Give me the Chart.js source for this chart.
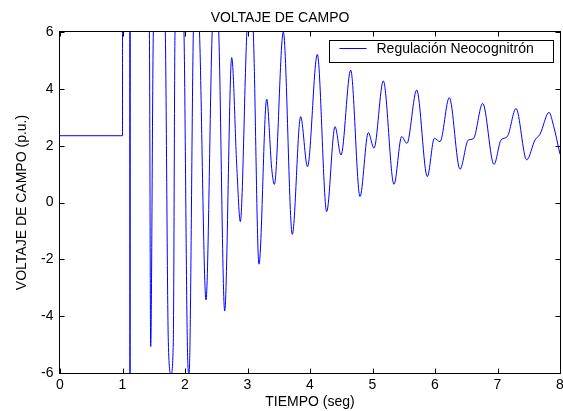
<!DOCTYPE html>
<html>
<head>
<meta charset="utf-8">
<script src="https://cdn.jsdelivr.net/npm/chart.js@4.4.0/dist/chart.umd.min.js"></script>
<style>
  body { margin: 0; background: #fff; }
  #wrap { width: 563px; height: 411px; }
</style>
</head>
<body>
<div id="wrap"><canvas id="fieldChart" width="563" height="411"></canvas></div>
<script>
// Field voltage (p.u.) against time (s).
// Values beyond +/-6 are clipped by the axes, so those are rough guesses.
const tiempo = [
  0, 1.0, 1.001, 1.06, 1.116, 1.12, 1.124, 1.28, 1.43, 1.451, 1.493, 1.59,
  1.685, 1.733, 1.776, 1.813, 1.84, 1.91, 1.984, 2.037, 2.064, 2.08, 2.133, 2.18,
  2.232, 2.336, 2.435, 2.49, 2.54, 2.635, 2.747, 2.83, 2.885, 2.99, 3.04, 3.093,
  3.184, 3.307, 3.387, 3.43, 3.573, 3.717, 3.85, 3.96, 4.117, 4.267, 4.40, 4.496,
  4.651, 4.80, 4.933, 5.024, 5.173, 5.344, 5.467, 5.55, 5.707, 5.877, 5.99, 6.08,
  6.229, 6.40, 6.533, 6.613, 6.763, 6.944, 7.056, 7.157, 7.296, 7.467, 7.6, 7.68,
  7.824, 7.9, 8.0
];
const voltaje = [
  2.35, 2.35, 8, 10, 6, -14, 6, 12, 6, -5.07, 6, 10,
  6, -4.9, -6.05, -4.9, 6, 9, 6, -4.9, -6.05, -4.9, 6, 8,
  6, -3.43, 6, 7.5, 6, -3.82, 5.1, 1.2, -0.67, 6, 7.2, 6,
  -2.17, 3.64, 1.2, 0.64, 6.0, -1.12, 3.02, 1.26, 5.21, -0.32, 2.67, 1.67,
  4.66, 0.21, 2.46, 1.91, 4.28, 0.64, 2.32, 2.08, 3.96, 0.91, 2.26, 2.14,
  3.69, 1.17, 2.2, 2.24, 3.49, 1.34, 2.2, 2.32, 3.31, 1.5, 2.2, 2.4,
  3.17, 2.67, 1.7
];
const xTickValues = [0, 1, 2, 3, 4, 5, 6, 7, 8];
const yTickValues = [-6, -4, -2, 0, 2, 4, 6];
const seriesLabel = 'Regulación Neocognitrón';

const font = { family: "'Liberation Sans', Arial, sans-serif", size: 14, weight: 'normal' };

// box round the axes, inward ticks on all four sides, boxed legend (MATLAB look)
const matlabFrame = {
  id: 'matlabFrame',
  beforeDatasetsDraw(chart) {
    const { ctx, chartArea: a, scales: { x, y } } = chart;
    const L = Math.round(a.left) - 0.5, R = Math.round(a.right) + 0.5;
    const T = Math.round(a.top) - 0.5, B = Math.round(a.bottom) + 0.5;
    ctx.save();
    ctx.strokeStyle = '#000';
    ctx.lineWidth = 1;
    ctx.strokeRect(L, T, R - L, B - T);
    ctx.beginPath();
    x.ticks.forEach(t => {
      const px = Math.round(x.getPixelForValue(t.value)) + 0.5;
      ctx.moveTo(px, B); ctx.lineTo(px, B - 5);
      ctx.moveTo(px, T); ctx.lineTo(px, T + 5);
    });
    y.ticks.forEach(t => {
      const py = Math.round(y.getPixelForValue(t.value)) + 0.5;
      ctx.moveTo(L, py); ctx.lineTo(L + 5, py);
      ctx.moveTo(R, py); ctx.lineTo(R - 5, py);
    });
    ctx.stroke();
    ctx.restore();
  },
  afterDatasetsDraw(chart) {
    const { ctx, chartArea: a } = chart;
    const ds = chart.data.datasets[0];
    const w = 224, h = 22;
    const left = Math.round(a.right - 7.3 - w) + 0.5;
    const top = Math.round(a.top + 7.7) + 0.5;
    ctx.save();
    ctx.fillStyle = '#fff';
    ctx.fillRect(left, top, w, h);
    ctx.strokeStyle = '#000';
    ctx.lineWidth = 1;
    ctx.strokeRect(left, top, w, h);
    ctx.strokeStyle = ds.borderColor;
    ctx.beginPath();
    ctx.moveTo(left + 10, top + 8);
    ctx.lineTo(left + 37, top + 8);
    ctx.stroke();
    ctx.fillStyle = '#000';
    ctx.font = `${font.size}px ${font.family}`;
    ctx.textBaseline = 'alphabetic';
    ctx.fillText(ds.label, left + 47, top + 12.8);
    ctx.restore();
  }
};

new Chart(document.getElementById('fieldChart'), {
  type: 'line',
  data: {
    datasets: [{
      label: seriesLabel,
      data: tiempo.map((t, i) => ({ x: t, y: voltaje[i] })),
      borderColor: '#0000ff',
      borderWidth: 1,
      pointRadius: 0,
      cubicInterpolationMode: 'monotone',
      fill: false
    }]
  },
  options: {
    responsive: false,
    animation: false,
    devicePixelRatio: 1,
    layout: { padding: { top: 0, right: 3, bottom: 0, left: 0 } },
    plugins: {
      legend: { display: false },
      tooltip: { enabled: false },
      title: {
        display: true,
        text: 'VOLTAJE DE CAMPO',
        color: '#000',
        font: font,
        padding: { top: 9.4, bottom: 5.8 }
      }
    },
    scales: {
      x: {
        type: 'linear',
        min: 0,
        max: 8,
        afterBuildTicks: s => { s.ticks = xTickValues.map(v => ({ value: v })); },
        afterFit: s => { s.height = 38; s.paddingLeft = 0; s.paddingRight = 0; },
        grid: { display: false, drawTicks: false },
        border: { display: false },
        ticks: { color: '#000', font: font, padding: 3.6, maxRotation: 0, autoSkip: false },
        title: { display: true, text: 'TIEMPO (seg)', color: '#000', font: font, padding: { top: 0, bottom: 0 } }
      },
      y: {
        min: -6,
        max: 6,
        afterBuildTicks: s => { s.ticks = yTickValues.map(v => ({ value: v })); },
        afterFit: s => { s.width = 60; s.paddingTop = 0; s.paddingBottom = 0; },
        grid: { display: false, drawTicks: false },
        border: { display: false },
        ticks: { color: '#000', font: font, padding: 6.5, autoSkip: false },
        title: { display: true, text: 'VOLTAJE DE CAMPO (p.u.)', color: '#000', font: font, padding: { top: 13.6, bottom: 0 } }
      }
    }
  },
  plugins: [matlabFrame]
});
</script>
</body>
</html>
